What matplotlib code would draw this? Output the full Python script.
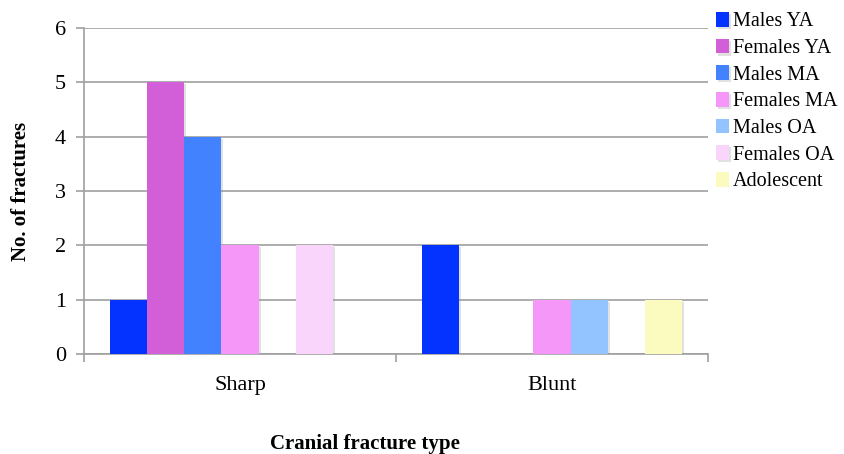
import numpy as np
import matplotlib.pyplot as plt
import matplotlib.patheffects as pe

plt.rcParams['font.family'] = ['Liberation Serif', 'DejaVu Serif']

# data
categories = ['Sharp', 'Blunt']
series = ['Males YA', 'Females YA', 'Males MA', 'Females MA',
          'Males OA', 'Females OA', 'Adolescent']
values = [
    [1, 2],  # Males YA
    [5, 0],  # Females YA
    [4, 0],  # Males MA
    [2, 1],  # Females MA
    [0, 1],  # Males OA
    [2, 0],  # Females OA
    [0, 1],  # Adolescent
]
colors = ['#0433FF', '#D35FD8', '#4282FF', '#F597F9',
          '#93C4FF', '#F9D5FC', '#FBFBBF']

fig = plt.figure(figsize=(8.45, 4.54), dpi=100)
ax = fig.add_axes([0.0994, 0.2203, 0.7385, 0.718])

x = np.arange(len(categories))
n = len(series)
width = 0.835 / n
shadow = [pe.SimplePatchShadow(offset=(1.5, -1.5), shadow_rgbFace='#888888', alpha=0.25),
          pe.Normal()]
for i, (name, vals, c) in enumerate(zip(series, values, colors)):
    offs = (i - (n - 1) / 2) * width
    bars = ax.bar(x + offs, vals, width, color=c, label=name, zorder=3)
    for b in bars:
        if b.get_height() > 0:
            b.set_path_effects(shadow)

ax.set_xlim(-0.5, len(categories) - 0.5)
ax.set_ylim(0, 6)
ax.set_yticks(range(0, 7))
ax.yaxis.grid(True, color='#a0a0a0', linewidth=1.2, zorder=0)

ax.set_xticks(x)
ax.set_xticklabels(categories, fontsize=16)
ax.set_xticks(np.arange(-0.5, len(categories)), minor=True)
ax.tick_params(axis='x', which='major', length=0, pad=16)
ax.tick_params(axis='x', which='minor', length=6, color='#a0a0a0', width=1.2)
ax.tick_params(axis='y', length=6, color='#a0a0a0', width=1.2, labelsize=16, pad=7)

for s in ['top', 'right']:
    ax.spines[s].set_visible(False)
ax.spines['left'].set_color('#a0a0a0')
ax.spines['left'].set_linewidth(1.2)
ax.spines['bottom'].set_color('#a0a0a0')
ax.spines['bottom'].set_linewidth(1.2)

ax.set_ylabel('No. of fractures', fontsize=15, fontweight='bold')
ax.yaxis.set_label_coords(-0.085, 0.5)
ax.set_xlabel('Cranial fracture type', fontsize=15, fontweight='bold')
ax.xaxis.set_label_coords(0.45, -0.245)

ax.legend(loc='upper left', bbox_to_anchor=(1.013, 1.049), frameon=False,
          fontsize=14.5, handlelength=0.62, handleheight=0.75, handletextpad=0.2,
          labelspacing=0.36, borderaxespad=0, borderpad=0)

fig.savefig('out.png', dpi=100)
